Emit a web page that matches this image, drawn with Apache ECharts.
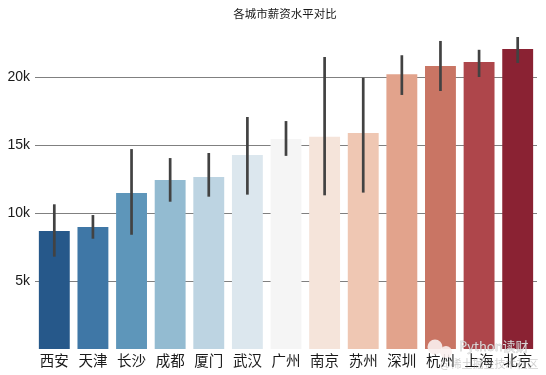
<!DOCTYPE html>
<html>
<head>
<meta charset="utf-8">
<style>
html, body { margin: 0; padding: 0; background: #fff; }
#main { width: 546px; height: 375px; }
</style>
<script src="https://cdn.jsdelivr.net/npm/echarts@6/dist/echarts.min.js"></script>
</head>
<body>
<div id="main"></div>
<script>
var cities = ['西安', '天津', '长沙', '成都', '厦门', '武汉', '广州', '南京', '苏州', '深圳', '杭州', '上海', '北京'];
var salary = [8680, 8970, 11470, 12430, 12650, 14260, 15440, 15600, 15880, 20200, 20800, 21100, 22060];
var errLow = [6790, 8110, 8400, 10830, 11200, 11350, 14200, 11300, 11500, 18680, 18970, 20000, 21030];
var errHigh = [10640, 9850, 14700, 14040, 14410, 17060, 16760, 21470, 19950, 21600, 22650, 22000, 22940];
var barColors = ['#26588a', '#3f77a6', '#5e96ba', '#93bbd1', '#bdd4e2', '#dce7ee', '#f5f5f5',
  '#f5e4da', '#efc7b3', '#e2a38c', '#c97564', '#ae464b', '#8a2233'];

var chartDom = document.getElementById('main');
var myChart = echarts.init(chartDom);

var cjk = '"Noto Sans CJK SC", sans-serif';

var option = {
  animation: false,
  backgroundColor: '#fff',
  title: {
    text: '各城市薪资水平对比',
    left: 280,
    top: 3,
    textAlign: 'center',
    textStyle: { fontFamily: cjk, fontSize: 11.5, fontWeight: 'normal', color: '#1a1a1a' }
  },
  grid: { left: 35, right: 9, top: 29.4, bottom: 26 },
  xAxis: {
    type: 'category',
    data: cities,
    axisLine: { show: false },
    axisTick: { show: false },
    axisLabel: { fontFamily: cjk, fontSize: 14.5, color: '#1a1a1a', margin: 4, interval: 0 }
  },
  yAxis: {
    type: 'value',
    min: 0,
    max: 23500,
    interval: 5000,
    axisLine: { show: false },
    axisTick: { show: false },
    axisLabel: {
      showMinLabel: false,
      showMaxLabel: false,
      fontFamily: '"Liberation Sans", Arial, sans-serif',
      fontSize: 14,
      color: '#1a1a1a',
      margin: 5,
      padding: [5, 0, 0, 0],
      formatter: function (v) { return v / 1000 + 'k'; }
    },
    splitLine: {
      showMinLine: false,
      showMaxLine: false,
      lineStyle: { color: '#808080', width: 1 }
    }
  },
  series: [
    {
      type: 'bar',
      barWidth: '80%',
      data: salary.map(function (v, i) {
        return { value: v, itemStyle: { color: barColors[i] } };
      })
    },
    {
      type: 'custom',
      z: 5,
      data: cities.map(function (c, i) { return [i, errLow[i], errHigh[i]]; }),
      renderItem: function (params, api) {
        var lo = api.coord([api.value(0), api.value(1)]);
        var hi = api.coord([api.value(0), api.value(2)]);
        return {
          type: 'line',
          shape: { x1: lo[0], y1: lo[1], x2: hi[0], y2: hi[1] },
          style: { stroke: '#424242', lineWidth: 2.7 }
        };
      }
    }
  ],
  graphic: [
    { type: 'circle', z: 10, shape: { cx: 435, cy: 347, r: 7.5 }, style: { fill: 'rgba(250,240,238,0.9)' } },
    { type: 'circle', z: 10, shape: { cx: 446, cy: 352, r: 6 }, style: { fill: 'rgba(250,240,238,0.9)' } },
    { type: 'text', z: 10, x: 459, y: 340, style: { text: 'Python读财', fontFamily: cjk, fontSize: 13, fill: 'rgba(228,228,228,0.9)', stroke: 'rgba(110,110,110,0.5)', lineWidth: 0.4 } },
    { type: 'text', z: 10, x: 440, y: 358, style: { text: '@稀土掘金技术社区', fontFamily: cjk, fontSize: 11, fill: 'rgba(150,150,150,0.45)' } }
  ]
};

option && myChart.setOption(option);
</script>
</body>
</html>
